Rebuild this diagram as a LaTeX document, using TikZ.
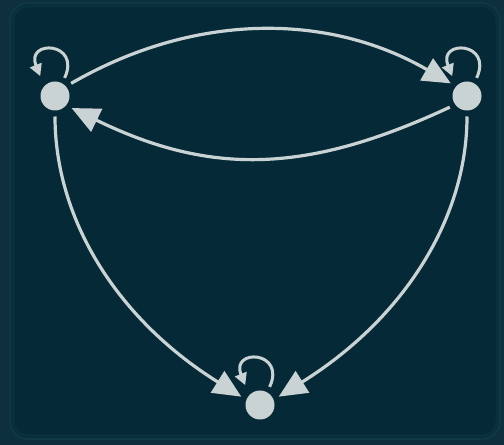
\documentclass[tikz,border=0pt]{standalone}
\usetikzlibrary{arrows.meta}
\definecolor{outerbg}{HTML}{0E303C}
\definecolor{innerbg}{HTML}{062937}
\definecolor{rimcol}{HTML}{103744}
\definecolor{ink}{HTML}{CAD3D3}
\tikzset{
  vert/.style={circle, fill=ink, draw=none, minimum size=29pt, inner sep=0pt, outer sep=6pt},
  bigarr/.style={draw=ink, line width=3.2pt, -{Triangle[length=28pt,width=25pt]}},
  looparr/.style={draw=ink, line width=3pt, -{Triangle[length=12pt,width=12pt]}}
}
\begin{document}
\begin{tikzpicture}[x=1pt,y=1pt]
\useasboundingbox (0,0) rectangle (504,445);
\fill[outerbg] (0,0) rectangle (504,445);
\fill[innerbg, draw=rimcol, line width=2pt, rounded corners=18pt] (10,6) rectangle (500,442);
\draw[rimcol!50!innerbg, line width=3pt, rounded corners=15pt] (13,9) rectangle (497,439);

\node[vert] (L) at (55,349) {};
\node[vert] (R) at (467,349) {};
\node[vert] (B) at (260,40) {};

% arcs between top nodes
\draw[bigarr] (L.38) .. controls +(30:142pt) and +(150:142pt) .. (R.142);
\draw[bigarr] (R.213) .. controls +(205:156pt) and +(-26:156pt) .. (L.-36);

% curves to bottom node
\draw[bigarr] (L.south) .. controls +(0,-100pt) and +(148:150pt) .. (B.156);
\draw[bigarr] (R.south) .. controls +(0,-100pt) and +(32:150pt) .. (B.24);

% self loops
\draw[looparr] (L.62) .. controls +(65:40pt) and +(112:40pt) .. ([shift={(-3pt,3pt)}]L.125);
\draw[looparr] (R.62) .. controls +(65:40pt) and +(112:40pt) .. ([shift={(-3pt,3pt)}]R.125);
\draw[looparr] (B.62) .. controls +(65:40pt) and +(112:40pt) .. ([shift={(-3pt,3pt)}]B.125);
\end{tikzpicture}
\end{document}
